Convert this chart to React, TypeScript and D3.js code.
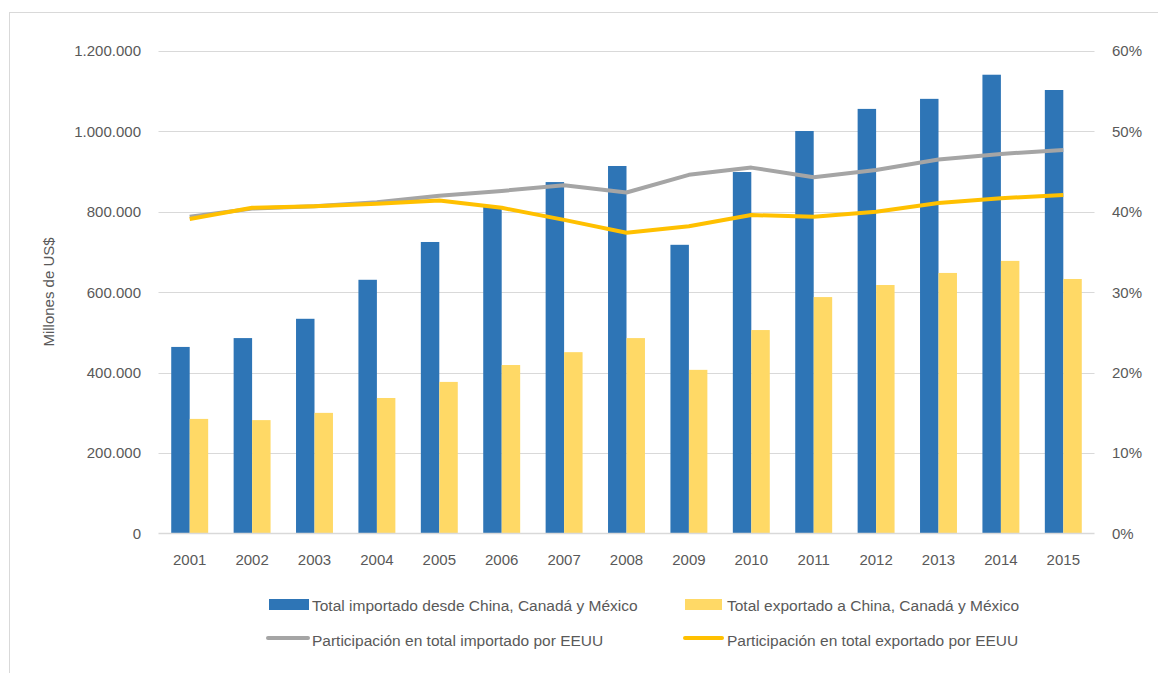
import React from "react";
import * as d3 from "d3";

const years = ["2001","2002","2003","2004","2005","2006","2007","2008","2009","2010","2011","2012","2013","2014","2015"];
const importsTotal = [464000,486000,534000,631000,725000,812000,874000,914000,718000,899000,1001000,1056000,1081000,1141000,1103000];
const exportsTotal = [285000,282000,300000,337000,377000,419000,451000,486000,407000,506000,588000,618000,648000,678000,633000];
const importShare = [0.394,0.404,0.407,0.412,0.420,0.426,0.433,0.424,0.446,0.455,0.443,0.452,0.465,0.472,0.477];
const exportShare = [0.391,0.405,0.407,0.410,0.414,0.405,0.390,0.374,0.382,0.396,0.394,0.400,0.411,0.417,0.421];
const leftTicks = [0,200000,400000,600000,800000,1000000,1200000];
const rightTicks = [0,0.1,0.2,0.3,0.4,0.5,0.6];
const legendLabels = [
  "Total importado desde China, Canadá y México",
  "Total exportado a China, Canadá y México",
  "Participación en total importado por EEUU",
  "Participación en total exportado por EEUU",
];

const W = 1158, H = 673;
const plot = { left: 158.5, right: 1094.5, top: 51, bottom: 533.5 };
const C = { blue: "#2E75B6", ybar: "#FFD966", gray: "#A5A5A5", yline: "#FFC000", grid: "#D9D9D9", text: "#595959" };
const font = "'Liberation Sans', Arial, sans-serif";

const fmt = (v: number) => d3.format(",")(v).replace(/,/g, ".");

export default function App() {
  const x = d3.scaleBand<string>().domain(years).range([plot.left, plot.right]);
  const yL = d3.scaleLinear().domain([0, 1200000]).range([plot.bottom, plot.top]);
  const yR = d3.scaleLinear().domain([0, 0.6]).range([plot.bottom, plot.top]);
  const bw = x.bandwidth() * 0.296;
  const cx = (y: string) => (x(y) as number) + x.bandwidth() / 2;
  const line = (vals: number[]) =>
    d3.line<number>().x((_, i) => cx(years[i])).y((d) => yR(d))(vals) as string;

  return (
    <svg width={W} height={H} style={{ position: "absolute", left: 0, top: 0, background: "#fff" }} fontFamily={font}>
      <rect x={9.5} y={12.5} width={W + 10} height={H + 10} fill="#fff" stroke={C.grid} strokeWidth={1} />
      {leftTicks.map((t) => (
        <g key={t}>
          {t > 0 && <line x1={plot.left} x2={plot.right} y1={Math.round(yL(t)) + 0.5} y2={Math.round(yL(t)) + 0.5} stroke={C.grid} strokeWidth={1} />}
          <text x={141} y={yL(t)} dy="0.35em" textAnchor="end" fontSize={15} fill={C.text}>{fmt(t)}</text>
        </g>
      ))}
      {rightTicks.map((t) => (
        <text key={t} x={1112} y={yR(t)} dy="0.35em" textAnchor="start" fontSize={15} fill={C.text}>{Math.round(t * 100)}%</text>
      ))}
      <text transform={`translate(54,292) rotate(-90)`} textAnchor="middle" fontSize={15} fill={C.text}>Millones de US$</text>
      {years.map((y, i) => (
        <g key={y}>
          <rect x={cx(y) - bw} y={yL(importsTotal[i])} width={bw} height={yL(0) - yL(importsTotal[i])} fill={C.blue} />
          <rect x={cx(y)} y={yL(exportsTotal[i])} width={bw} height={yL(0) - yL(exportsTotal[i])} fill={C.ybar} />
          <text x={cx(y)} y={560} dy="0.35em" textAnchor="middle" fontSize={15} fill={C.text}>{y}</text>
        </g>
      ))}
      <line x1={plot.left} x2={plot.right} y1={533.5} y2={533.5} stroke={C.grid} strokeWidth={1.5} />
      <path d={line(importShare)} fill="none" stroke={C.gray} strokeWidth={4} strokeLinejoin="round" />
      <path d={line(exportShare)} fill="none" stroke={C.yline} strokeWidth={4} strokeLinejoin="round" />
      {/* legend */}
      <rect x={269} y={599} width={40} height={11} fill={C.blue} />
      <text x={312} y={606} dy="0.35em" fontSize={15.5} fill={C.text}>{legendLabels[0]}</text>
      <rect x={685} y={599} width={37} height={11} fill={C.ybar} />
      <text x={727} y={606} dy="0.35em" fontSize={15.5} fill={C.text}>{legendLabels[1]}</text>
      <line x1={268} x2={308} y1={638} y2={638} stroke={C.gray} strokeWidth={4} strokeLinecap="round" />
      <text x={312} y={641} dy="0.35em" fontSize={15.5} fill={C.text}>{legendLabels[2]}</text>
      <line x1={685} x2={722} y1={638} y2={638} stroke={C.yline} strokeWidth={4} strokeLinecap="round" />
      <text x={727} y={641} dy="0.35em" fontSize={15.5} fill={C.text}>{legendLabels[3]}</text>
    </svg>
  );
}
